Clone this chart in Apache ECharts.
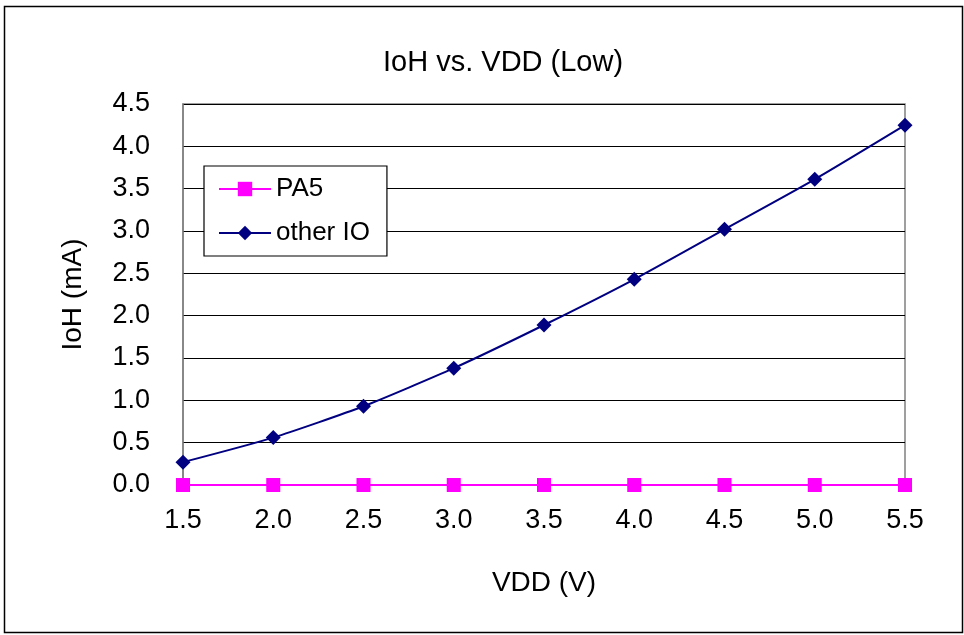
<!DOCTYPE html>
<html><head><meta charset="utf-8">
<script src="https://cdn.jsdelivr.net/npm/echarts@6/dist/echarts.min.js"></script>
<style>html,body{margin:0;padding:0;background:#fff}#c{width:964px;height:635px}</style>
</head><body><div id="c"></div>
<script>
var vdd = [1.5, 2.0, 2.5, 3.0, 3.5, 4.0, 4.5, 5.0, 5.5];
var pa5 = [0, 0, 0, 0, 0, 0, 0, 0, 0];
var otherIO = [0.27, 0.56, 0.93, 1.38, 1.89, 2.43, 3.02, 3.61, 4.25];
var titleText = 'IoH vs. VDD (Low)';
var xName = 'VDD (V)';
var yName = 'IoH (mA)';

var chart = echarts.init(document.getElementById('c'));
var font = '"Liberation Sans", Arial, sans-serif';
function pairs(ys){ return vdd.map(function(x,i){return [x, ys[i]];}); }
var diamond = 'path://M0,-1L1,0L0,1L-1,0Z';
chart.setOption({
  animation: false,
  backgroundColor: '#fff',
  title: {text: titleText, left: 378, top: 43, textStyle: {fontFamily: font, fontSize: 29, fontWeight: 'normal', color: '#000'}},
  graphic: [{type: 'rect', shape: {x: 4.5, y: 6.5, width: 958, height: 626}, style: {fill: 'none', stroke: '#000', lineWidth: 1.5}, silent: true}],
  grid: {left: 183, right: 59, top: 104, bottom: 150, show: true, borderColor: '#808080', borderWidth: 1.5},
  legend: {
    left: 204, top: 166, orient: 'vertical', itemGap: 18, itemWidth: 52, itemHeight: 18,
    padding: [10, 17, 10, 14], borderColor: '#000', borderWidth: 1.2, backgroundColor: '#fff',
    lineStyle: {width: 2},
    textStyle: {fontFamily: font, fontSize: 26, color: '#000'},
    data: ['PA5', 'other IO']
  },
  xAxis: {
    type: 'value', min: 1.5, max: 5.5, interval: 0.5,
    name: xName, nameLocation: 'middle', nameGap: 84,
    nameTextStyle: {fontFamily: font, fontSize: 28, color: '#000'},
    axisLine: {show: true, lineStyle: {color: '#808080', width: 1.5}},
    axisTick: {show: true, inside: true, length: 5, lineStyle: {color: '#808080'}},
    axisLabel: {fontFamily: font, fontSize: 27, color: '#000', margin: 22, formatter: function(v){return v.toFixed(1);}},
    splitLine: {show: false}
  },
  yAxis: {
    type: 'value', min: 0, max: 4.5, interval: 0.5,
    name: yName, nameLocation: 'middle', nameGap: 96,
    nameTextStyle: {fontFamily: font, fontSize: 28, color: '#000'},
    axisLine: {show: true, lineStyle: {color: '#808080', width: 1.5}},
    axisTick: {show: false},
    axisLabel: {fontFamily: font, fontSize: 27, color: '#000', margin: 33, formatter: function(v){return v.toFixed(1);}},
    splitLine: {show: true, lineStyle: {color: '#000', width: 1}}
  },
  series: [
    {name: 'other IO', type: 'line', data: pairs(otherIO), smooth: 0.2, symbol: diamond, symbolSize: 15,
     lineStyle: {color: '#000080', width: 2}, itemStyle: {color: '#000080'}, z: 3},
    {name: 'PA5', type: 'line', data: pairs(pa5), symbol: 'rect', symbolSize: 14,
     lineStyle: {color: '#FF00FF', width: 2}, itemStyle: {color: '#FF00FF'}, z: 4}
  ]
});
</script></body></html>
